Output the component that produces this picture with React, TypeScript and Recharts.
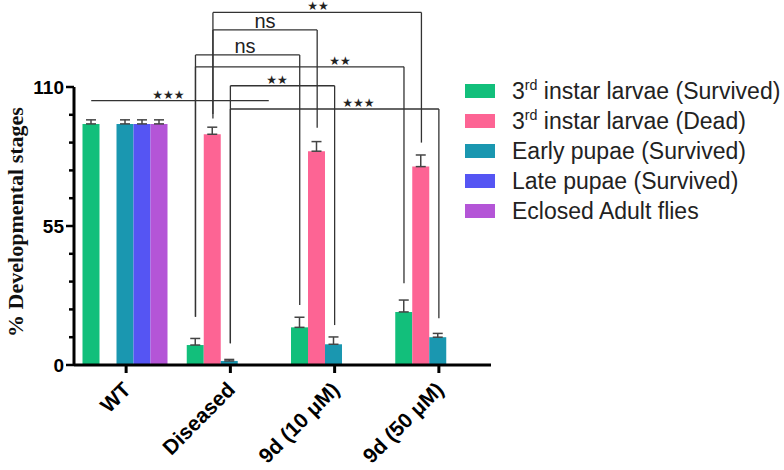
import { BarChart, Bar, XAxis, YAxis, ErrorBar, Legend, ReferenceLine, ReferenceDot } from 'recharts';

const groups = ['WT', 'Diseased', '9d (10 μM)', '9d (50 μM)'];

const larvaeSurvived = [95.4, 7.9, 14.9, 21.0];
const larvaeSurvivedErr = [1.6, 2.6, 4.0, 4.7];
const larvaeDead = [null, 91.3, 84.6, 78.5];
const larvaeDeadErr = [null, 2.8, 3.8, 4.6];
const earlyPupae = [95.4, 1.6, 8.2, 11.0];
const earlyPupaeErr = [1.6, 0.6, 2.9, 1.5];
const latePupae = [95.4, null, null, null];
const latePupaeErr = [1.6, null, null, null];
const adultFlies = [95.4, null, null, null];
const adultFliesErr = [1.6, null, null, null];

const yTicks = [0, 11, 22, 33, 44, 55, 66, 77, 88, 99, 110];
const majorTicks = [0, 55, 110];

// band edges of the category axis, so brackets can be placed on a numeric axis
const bandEdges = [-0.5, null, null, 3.5];

// significance brackets: [group, series] ends, height of the top line, drop ends
const brackets = [
  { label: '**', y: 139.5, from: [1, 1], to: [3, 1], fromEnd: 99.3, toEnd: 88, at: 1.84 },
  { label: 'ns', y: 132.6, from: [1, 1], to: [2, 1], fromEnd: 97.5, toEnd: 93.9, at: 1.332 },
  { label: 'ns', y: 122.7, from: [1, 0], to: [2, 0], fromEnd: 19.1, toEnd: 23.7, at: 1.14 },
  { label: '**', y: 118, from: [1, 0], to: [3, 0], fromEnd: 19.1, toEnd: 32.3, at: 2.052 },
  { label: '**', y: 110.5, from: [1, 2], to: [2, 2], fromEnd: 8.6, toEnd: 15.8, at: 1.447 },
  { label: '***', y: 101.3, from: [1, 2], to: [3, 2], fromEnd: 8.6, toEnd: 18.5, at: 2.229 },
  { label: '***', y: 104.6, from: [0, 0], to: [1, 4.2], fromEnd: null, toEnd: null, at: 0.406 },
];

const series = [
  { key: 'larvaeSurvived', name: '3rd instar larvae (Survived)', color: '#12bf7b' },
  { key: 'larvaeDead', name: '3rd instar larvae (Dead)', color: '#fd6494' },
  { key: 'earlyPupae', name: 'Early pupae (Survived)', color: '#1a97b0' },
  { key: 'latePupae', name: 'Late pupae (Survived)', color: '#5555f3' },
  { key: 'adultFlies', name: 'Eclosed Adult flies', color: '#b455d7' },
];

const values = [larvaeSurvived, larvaeDead, earlyPupae, latePupae, adultFlies];
const errors = [larvaeSurvivedErr, larvaeDeadErr, earlyPupaeErr, latePupaeErr, adultFliesErr];

const data = groups.map((g, i) => {
  const row: any = { group: g, edge: bandEdges[i] };
  series.forEach((s, k) => {
    row[s.key] = values[k][i];
    row[s.key + 'Err'] = errors[k][i] == null ? null : [0, errors[k][i]];
  });
  return row;
});

const FONT = 'Arial, "Liberation Sans", Helvetica, sans-serif';
const PLOT_W = 417;
const GAP = 8.5;
const BAND = PLOT_W / groups.length;
const SLOT = (BAND - 2 * GAP) / series.length / BAND;
const pos = (g: number, s: number) => g + (s - 2) * SLOT;

const YTick = (props: any) => {
  const { x, y, payload } = props;
  const major = majorTicks.includes(payload.value);
  return (
    <g>
      <line x1={x - (major ? 8 : 5)} x2={x} y1={y} y2={y} stroke="#000" strokeWidth={2.5} />
      {major && (
        <text x={x - 10} y={y} textAnchor="end" dominantBaseline="central" fontFamily={FONT} fontWeight="bold" fontSize={19} fill="#000">
          {payload.value}
        </text>
      )}
    </g>
  );
};

const XTick = (props: any) => {
  const { x, y, payload } = props;
  const px = x + 6;
  const py = y + 16;
  return (
    <text x={px} y={py} transform={`rotate(-45 ${px} ${py})`} textAnchor="end" fontFamily={FONT} fontWeight="bold" fontSize={21} fill="#000">
      {payload.value}
    </text>
  );
};

const legendLabel = (name: string) => {
  if (name.startsWith('3rd')) {
    return (
      <>
        3<span style={{ fontSize: '0.62em', position: 'relative', top: '-0.6em' }}>rd</span>
        {name.slice(3)}
      </>
    );
  }
  return name;
};

const order = series.map((s) => s.name);

const renderLegend = (props: any) => {
  const items = [...(props.payload || [])].sort((a: any, b: any) => order.indexOf(a.value) - order.indexOf(b.value));
  return (
    <div>
      {items.map((entry: any) => (
        <div key={entry.value} style={{ display: 'flex', alignItems: 'center', height: 30 }}>
          <span style={{ display: 'inline-block', width: 30, height: 14, background: entry.color, marginRight: 17 }} />
          <span style={{ fontFamily: FONT, fontSize: 23, color: '#222', whiteSpace: 'nowrap' }}>{legendLabel(entry.value)}</span>
        </div>
      ))}
    </div>
  );
};

const App = () => {
  const lines: any[] = [];
  brackets.forEach((b, i) => {
    const x1 = pos(b.from[0], b.from[1]);
    const x2 = pos(b.to[0], b.to[1]);
    lines.push({ id: `h${i}`, seg: [{ x: x1, y: b.y }, { x: x2, y: b.y }] });
    if (b.fromEnd != null) lines.push({ id: `l${i}`, seg: [{ x: x1, y: b.y }, { x: x1, y: b.fromEnd }] });
    if (b.toEnd != null) lines.push({ id: `r${i}`, seg: [{ x: x2, y: b.y }, { x: x2, y: b.toEnd }] });
  });

  return (
    <div style={{ position: 'absolute', left: 0, top: 0 }}>
      <BarChart
        width={784}
        height={470}
        data={data}
        margin={{ top: 87, right: 784 - 74 - PLOT_W, bottom: 25, left: 14 }}
        barCategoryGap={GAP}
        barGap={0}
      >
        <XAxis
          dataKey="group"
          height={80}
          axisLine={{ stroke: '#000', strokeWidth: 3 }}
          tickLine={{ stroke: '#000', strokeWidth: 3 }}
          tickSize={8}
          tick={<XTick />}
          interval={0}
        />
        <XAxis xAxisId="pos" dataKey="edge" type="number" domain={['dataMin', 'dataMax']} hide />
        <YAxis
          width={60}
          domain={[0, 110]}
          ticks={yTicks}
          interval={0}
          tickSize={0}
          tickMargin={0}
          tickLine={false}
          tick={<YTick />}
          axisLine={{ stroke: '#000', strokeWidth: 3 }}
          label={{
            content: (p: any) => {
              const vb = p.viewBox || { y: 87, height: 278 };
              const cx = 15;
              const cy = vb.y + vb.height / 2 - 4;
              return (
                <text
                  x={cx}
                  y={cy}
                  transform={`rotate(-90 ${cx} ${cy})`}
                  textAnchor="middle"
                  dominantBaseline="central"
                  fontFamily='"Liberation Serif", "Times New Roman", serif'
                  fontWeight="bold"
                  fontSize={22}
                  fill="#111"
                >
                  % Developmental stages
                </text>
              );
            },
          }}
        />
        <Legend
          layout="vertical"
          align="center"
          verticalAlign="middle"
          content={renderLegend}
          wrapperStyle={{ left: 465, top: 76, width: 320 }}
        />
        {series.map((s) => (
          <Bar key={s.key} dataKey={s.key} name={s.name} fill={s.color} isAnimationActive={false}>
            <ErrorBar dataKey={s.key + 'Err'} width={5} stroke="#444" strokeWidth={1.5} direction="y" />
          </Bar>
        ))}
        {lines.map((l) => (
          <ReferenceLine key={l.id} xAxisId="pos" segment={l.seg} ifOverflow="visible" stroke="#333" strokeWidth={1.3} />
        ))}
        {brackets.map((b, i) => (
          <ReferenceDot
            key={`t${i}`}
            xAxisId="pos"
            x={b.at}
            y={b.y}
            r={0}
            ifOverflow="visible"
            shape={(p: any) =>
              b.label === 'ns' ? (
                <text x={p.cx} y={p.cy - 2} textAnchor="middle" fontFamily={FONT} fontSize={20} fill="#222">
                  ns
                </text>
              ) : (
                <text x={p.cx} y={p.cy - 2} textAnchor="middle" fontFamily='"DejaVu Sans", sans-serif' fontSize={12} fill="#222">
                  {'★'.repeat(b.label.length)}
                </text>
              )
            }
          />
        ))}
      </BarChart>
    </div>
  );
};

export default App;
